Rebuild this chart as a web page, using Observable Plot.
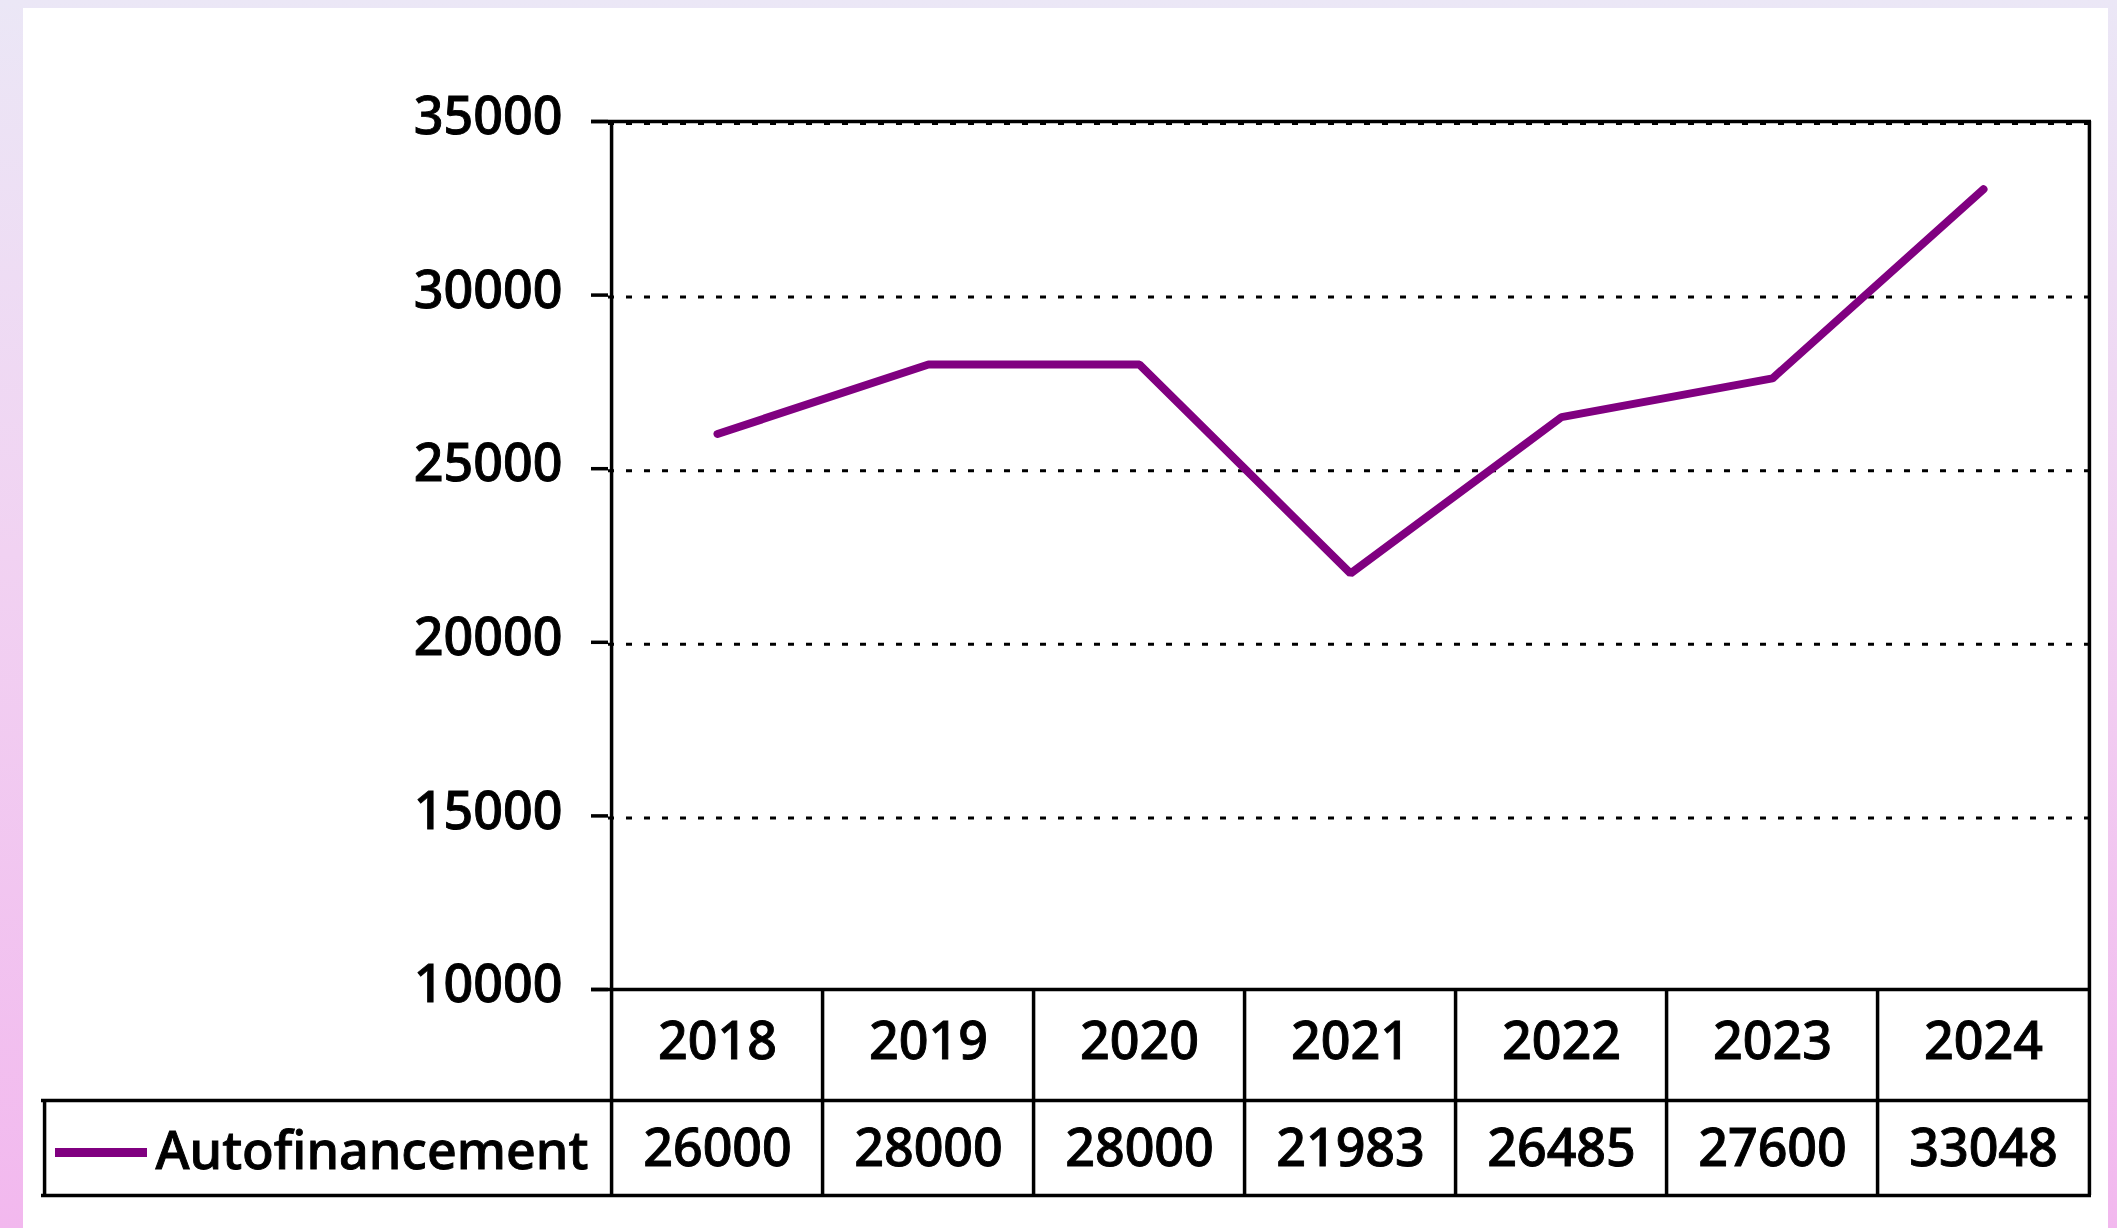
<!DOCTYPE html>
<html><head><meta charset="utf-8">
<script src="https://cdn.jsdelivr.net/npm/d3@7"></script>
<script src="https://cdn.jsdelivr.net/npm/@observablehq/plot@0.6"></script>
<style>
html,body{margin:0;padding:0;}
body{width:2117px;height:1228px;overflow:hidden;position:relative;
  background:linear-gradient(to bottom,#ebe7f6 0%,#f1d2f2 45%,#f2b8ee 100%);}
#panel{position:absolute;left:23px;top:8px;width:2085px;height:1220px;background:#fff;}
#chart{position:absolute;left:0;top:0;}
#chart text{font-weight:500;stroke:#000;stroke-width:0.9px;}
</style></head><body><div id="panel"></div><div id="chart"></div>
<script>
// ---- data ----
const years = ["2018", "2019", "2020", "2021", "2022", "2023", "2024"];
const values = [26000, 28000, 28000, 21983, 26485, 27600, 33048];
const seriesName = "Autofinancement";
const yTicks = [10000, 15000, 20000, 25000, 30000, 35000];
const gridTicks = [15000, 20000, 25000, 30000, 35000];

// ---- layout ----
const W = 2117, H = 1228;
const mT = 121, mB = 239, mL = 608, mR = 26;
const FW = W - mL - mR, FH = H - mT - mB;
const headerH = 111, tableH = 206;
const legendCellLeft = 41;
const step = FW / years.length;
const fs = 52;
const lw = 3.5;
const purple = "#800080";

const data = years.map((y, i) => ({year: y, value: values[i]}));

const chart = Plot.plot({
  width: W, height: H,
  marginTop: mT, marginBottom: mB, marginLeft: mL, marginRight: mR,
  style: {background: "transparent", fontFamily: "'Noto Sans', 'DejaVu Sans', sans-serif", fontSize: fs + "px", color: "#000", overflow: "visible"},
  x: {type: "point", domain: years, padding: 0.5, axis: null},
  y: {domain: [10000, 35000], axis: null, label: null},
  marks: [
    // dotted gridlines
    Plot.ruleY(gridTicks, {stroke: "#000", strokeWidth: 3, strokeDasharray: "6,12", dy: 2}),
    // y tick marks
    Plot.ruleY(yTicks, {stroke: "#000", strokeWidth: lw, insetLeft: -17, insetRight: FW}),
    // top border and x axis line
    Plot.ruleY([35000, 10000], {stroke: "#000", strokeWidth: lw, insetLeft: -17}),
    // y labels
    Plot.axisY({ticks: yTicks, tickSize: 0, tickPadding: 46, tickFormat: d => String(d), fontSize: fs, label: null, dy: -4}),
    // table horizontal lines
    Plot.ruleY([10000], {stroke: "#000", strokeWidth: lw, dy: headerH, insetLeft: -(mL - legendCellLeft)}),
    Plot.ruleY([10000], {stroke: "#000", strokeWidth: lw, dy: tableH, insetLeft: -(mL - legendCellLeft)}),
    // left frame / first column line
    Plot.ruleX([years[0]], {stroke: "#000", strokeWidth: lw, dx: -step / 2, insetBottom: -tableH}),
    // right frame / last column line
    Plot.ruleX([years[years.length - 1]], {stroke: "#000", strokeWidth: lw, dx: step / 2, insetBottom: -tableH}),
    // inner column lines
    Plot.ruleX(years.slice(1), {stroke: "#000", strokeWidth: lw, dx: -step / 2, insetTop: FH, insetBottom: -tableH}),
    // legend cell left line
    Plot.ruleX([years[0]], {stroke: "#000", strokeWidth: lw, dx: -step / 2 - (mL - legendCellLeft), insetTop: FH + headerH, insetBottom: -tableH}),
    // year labels (category axis)
    Plot.axisX({tickSize: 0, tickPadding: 33, fontSize: fs, label: null}),
    // value row
    Plot.text(data, {x: "year", text: d => String(d.value), frameAnchor: "bottom", dy: 160, fontSize: fs, lineAnchor: "middle", fill: "#000"}),
    // legend key
    Plot.ruleY([10000], {stroke: purple, strokeWidth: 9, dy: 163, insetLeft: -(mL - 55), insetRight: (W - mR) - 147}),
    Plot.text([seriesName], {text: d => d, frameAnchor: "bottom-left", dx: 155 - mL, dy: 163, textAnchor: "start", lineAnchor: "middle", fontSize: fs, fill: "#000"}),
    // data line
    Plot.line(data, {x: "year", y: "value", stroke: purple, strokeWidth: 8, strokeLinejoin: "miter"})
  ]
});
document.getElementById("chart").appendChild(chart);
</script>
</body></html>
